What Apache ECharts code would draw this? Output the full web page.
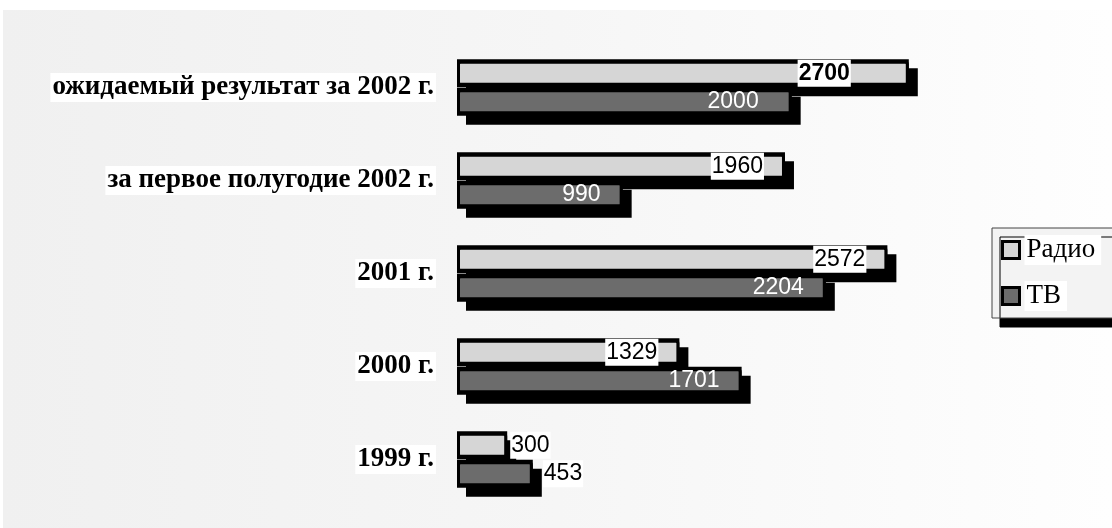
<!DOCTYPE html>
<html>
<head>
<meta charset="utf-8">
<script src="https://cdn.jsdelivr.net/npm/echarts@6/dist/echarts.min.js"></script>
<style>
html,body{margin:0;padding:0;background:#fff;}
#c{width:1112px;height:528px;}
</style>
</head>
<body>
<div id="c"></div>
<script>
const categories = ['ожидаемый результат за 2002 г.', 'за первое полугодие 2002 г.', '2001 г.', '2000 г.', '1999 г.'];
const seriesNames = ['Радио', 'ТВ'];
const radioValues = [2700, 1960, 2572, 1329, 300];
const tvValues = [2000, 990, 2204, 1701, 453];

const chart = echarts.init(document.getElementById('c'), null, {renderer: 'canvas'});

function buildData(values, isRadio) {
  return values.map(function (v, i) {
    const small = v < 600;
    const emphasised = i === 0;
    const label = {
      show: true,
      position: small ? 'right' : 'insideRight',
      distance: small ? (isRadio ? 3 : 10) : (emphasised ? (isRadio ? 58 : 32) : 21),
      fontFamily: '"Liberation Sans", Arial, sans-serif',
      fontSize: 23,
      fontWeight: (emphasised && isRadio) ? 'bold' : 'normal',
      color: (isRadio || small) ? '#000' : '#fff',
      backgroundColor: (isRadio || small) ? '#fff' : 'transparent',
      padding: [2, 1, 1, 1],
      lineHeight: 24
    };
    return {value: v, label: label};
  });
}

function frameSeries(name, values, fill, isRadio) {
  return {
    name: name,
    type: 'bar',
    yAxisIndex: 1,
    z: 3,
    barWidth: 25,
    barGap: '14%',
    itemStyle: {color: fill, borderColor: '#000', borderWidth: 3, borderRadius: 2},
    data: buildData(values, isRadio)
  };
}

function shadowSeries(name, values) {
  return {
    name: name,
    type: 'bar',
    yAxisIndex: 0,
    z: 1,
    silent: true,
    barWidth: 28,
    barGap: '2%',
    itemStyle: {
      color: '#000',
      shadowColor: '#000',
      shadowBlur: 0,
      shadowOffsetX: 9,
      shadowOffsetY: 9
    },
    label: {show: false},
    data: values
  };
}

const catAxis = function (show) {
  return {
    type: 'category',
    inverse: true,
    show: show,
    data: categories,
    axisLine: {show: false},
    axisTick: {show: false},
    splitLine: {show: false},
    axisLabel: {
      show: show,
      margin: 21,
      fontFamily: '"Liberation Serif", "Times New Roman", serif',
      fontWeight: 'bold',
      fontSize: 27,
      color: '#000',
      backgroundColor: '#fff',
      padding: [2, 2, 0, 2]
    }
  };
};

chart.setOption({
  animation: false,
  backgroundColor: '#fff',
  graphic: [{
    type: 'rect',
    z: -10,
    silent: true,
    shape: {x: 3, y: 10, width: 1109, height: 518},
    style: {
      fill: new echarts.graphic.LinearGradient(0, 0, 1, 0, [
        {offset: 0, color: '#f0f0f0'},
        {offset: 0.5, color: '#f6f6f6'},
        {offset: 1, color: '#fefefe'}
      ])
    }
  }],
  legend: {
    orient: 'vertical',
    left: 992,
    top: 228,
    padding: [7, 60, 7, 9],
    itemGap: 16,
    itemWidth: 17,
    itemHeight: 17,
    icon: 'rect',
    backgroundColor: '#f3f3f3',
    borderColor: '#444',
    borderWidth: 1,
    shadowColor: '#000',
    shadowBlur: 0,
    shadowOffsetX: 8,
    shadowOffsetY: 9,
    itemStyle: {borderColor: '#000', borderWidth: 3},
    textStyle: {
      fontFamily: '"Liberation Serif", "Times New Roman", serif',
      fontSize: 27,
      lineHeight: 30,
      color: '#000',
      backgroundColor: '#fff',
      padding: [0, 6, 0, 2]
    },
    data: seriesNames
  },
  grid: {left: 457, right: 153, top: 41, bottom: 22, containLabel: false},
  xAxis: {
    type: 'value',
    min: 0,
    max: 3000,
    show: false,
    splitLine: {show: false}
  },
  yAxis: [catAxis(true), catAxis(false)],
  series: [
    shadowSeries('shadow-radio', radioValues),
    shadowSeries('shadow-tv', tvValues),
    frameSeries(seriesNames[0], radioValues, '#d6d6d6', true),
    frameSeries(seriesNames[1], tvValues, '#6c6c6c', false)
  ]
});
</script>
</body>
</html>
